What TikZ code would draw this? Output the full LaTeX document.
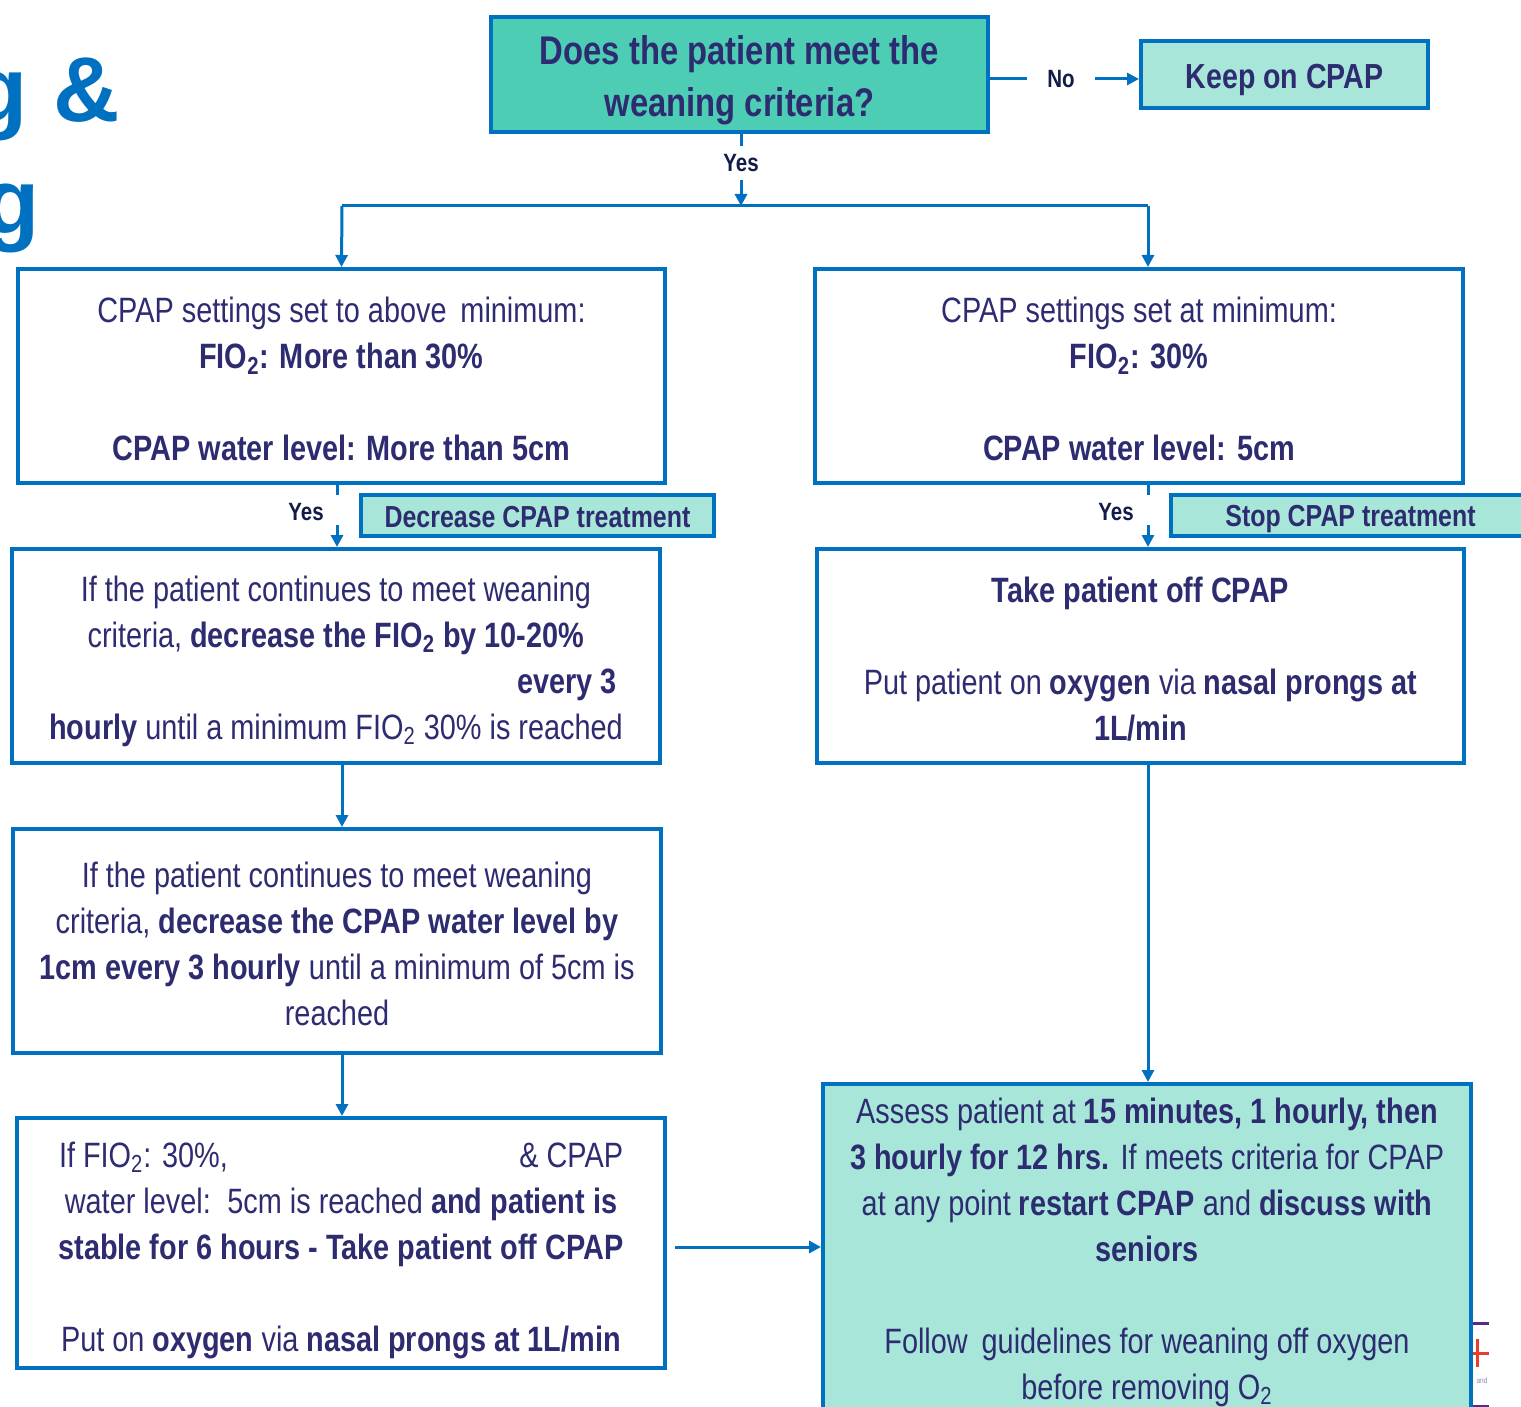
\documentclass[tikz,border=0pt]{standalone}
\usepackage{fontspec}
\setmainfont{Liberation Sans}[FakeStretch=0.82]
\newfontfamily\titlefont{Liberation Sans}
\usetikzlibrary{positioning, arrows.meta}
\definecolor{nhsblue}{RGB}{0, 112, 192}
\definecolor{tealdark}{RGB}{78, 205, 181}
\definecolor{teallight}{RGB}{168, 230, 218}
\definecolor{textnavy}{RGB}{46, 44, 112}
\definecolor{labelnavy}{RGB}{18, 28, 72}
\definecolor{logopurple}{RGB}{84, 44, 134}
\definecolor{logored}{RGB}{232, 62, 42}
\newcommand{\lift}[1]{\rule{0pt}{#1}}

\begin{document}
\begin{tikzpicture}[
  x=0.5pt, y=-0.5pt,
  >={Triangle[length=6pt, width=6pt]},
  whitebox/.style={
    draw=nhsblue,
    line width=2pt,
    fill=white,
    align=center,
    text=textnavy,
    inner sep=0pt,
    font=\fontsize{17.6}{23}\selectfont,
  },
  tealbox/.style={
    whitebox,
    fill=teallight,
  },
  hintbox/.style={
    draw=nhsblue,
    line width=2pt,
    fill=teallight,
    text=textnavy,
    inner sep=0pt,
    font=\fontsize{15.2}{18}\selectfont\bfseries,
    execute at begin node={\rule{0pt}{12.5pt}},
  },
  yeslabel/.style={
    text=labelnavy,
    inner xsep=0pt,
    inner ysep=4pt,
    font=\fontsize{12.5}{14}\selectfont\bfseries,
  },
  flow/.style={
    draw=nhsblue,
    line width=1.5pt,
  }
]
  \useasboundingbox (0,0) rectangle (1521,1407);

  % === cut-off title on the left ===
  \node[text=nhsblue, font=\titlefont\fontsize{46}{50}\selectfont\bfseries, anchor=base east, inner sep=0pt] (title-a) at (120,122) {g \&};
  \node[text=nhsblue, font=\titlefont\fontsize{46}{50}\selectfont\bfseries, anchor=base east, inner sep=0pt] (title-b) at (40,234) {g};

  % === QUESTION (top) ===
  \node[whitebox, fill=tealdark, minimum width=248.5pt, minimum height=57.5pt,
        font=\fontsize{20}{26}\selectfont\bfseries] (q-box) at (739.5,74.5)
        {\lift{20.6pt}Does the patient meet the\\ weaning criteria?};

  % KEEP ON CPAP (top right)
  \node[tealbox, minimum width=143.5pt, minimum height=33.5pt,
        font=\fontsize{17.4}{20}\selectfont\bfseries,
        execute at begin node={\rule{0pt}{18pt}}] (keep-box) at (1284.5,74.5) {Keep on CPAP};

  \node[yeslabel, inner xsep=10pt] (no-q) at (1061,79) {No};
  \draw[flow] (q-box.east |- no-q.west) -- (no-q.west);
  \draw[flow, ->] (no-q.east) -- (no-q.east -| keep-box.west);

  % Yes split into two branches
  \node[yeslabel] (yes-q) at (741,163) {Yes};
  \coordinate (split) at (741,206);
  \coordinate (split-l) at (342,206);
  \coordinate (split-r) at (1148,206);
  \draw[flow] (yes-q.north |- q-box.south) -- (yes-q.north);
  \draw[flow, ->] (yes-q.south) -- (split);
  \draw[flow] (split-l) -- (split-r);

  % === LEFT BRANCH ===
  \node[whitebox, minimum width=323.5pt, minimum height=107pt] (set-hi) at (341.5,376)
        {\lift{15.9pt}CPAP settings set to above\, minimum:\\
         \textbf{FIO\textsubscript{2}: More than 30\%}\\[23pt]
         \textbf{CPAP water level: More than 5cm}};
  \draw[flow, ->] (split-l) -- (set-hi.north);

  \node[hintbox, minimum width=176.5pt, minimum height=20.5pt] (dec-hint) at (537.5,515.5) {Decrease CPAP treatment};
  \node[yeslabel] (yes-l) at (306,512) {Yes};
  \coordinate (gap-l-top) at (337,495);
  \coordinate (gap-l-bot) at (337,525);

  \node[whitebox, minimum width=324pt, minimum height=107pt] (fio-dec) at (336,656)
        {\lift{17.9pt}If the patient continues to meet weaning\\
         criteria, \textbf{decrease the FIO\textsubscript{2} by 10-20\%}\\
         \hspace*{231pt}\textbf{every 3}\\
         \textbf{hourly} until a minimum FIO\textsubscript{2} 30\% is reached};
  \draw[flow] (gap-l-top |- set-hi.south) -- (gap-l-top);
  \draw[flow, ->] (gap-l-bot) -- (gap-l-bot |- fio-dec.north);

  \node[whitebox, minimum width=324pt, minimum height=112pt] (water-dec) at (337,941)
        {\lift{15.9pt}If the patient continues to meet weaning\\
         criteria, \textbf{decrease the CPAP water level by}\\
         \textbf{1cm every 3 hourly} until a minimum of 5cm is\\
         reached};
  \coordinate (col-l) at (342,0);
  \draw[flow, ->] (col-l |- fio-dec.south) -- (col-l |- water-dec.north);

  \node[whitebox, minimum width=324pt, minimum height=125pt] (off-cpap) at (341,1243)
        {\lift{19.9pt}\makebox[282pt][s]{If FIO\textsubscript{2}: 30\%,\hfill\& CPAP}\\
         water level:\, 5cm is reached \textbf{and patient is}\\
         \textbf{stable for 6 hours - Take patient off CPAP}\\[23pt]
         Put on \textbf{oxygen} via \textbf{nasal prongs at 1L/min}};
  \draw[flow, ->] (col-l |- water-dec.south) -- (col-l |- off-cpap.north);

  % === RIGHT BRANCH ===
  \node[whitebox, minimum width=324pt, minimum height=107pt] (set-min) at (1139,376)
        {\lift{15.9pt}CPAP settings set at minimum:\\
         \textbf{FIO\textsubscript{2}: 30\%}\\[23pt]
         \textbf{CPAP water level: 5cm}};
  \draw[flow, ->] (split-r) -- (split-r |- set-min.north);

  \node[hintbox, minimum width=179.5pt, minimum height=20.5pt,
        execute at begin node={\rule{0pt}{14pt}}] (stop-hint) at (1350.5,515.5) {Stop CPAP treatment};
  \node[yeslabel] (yes-r) at (1116,512) {Yes};
  \coordinate (gap-r-top) at (1148,495);
  \coordinate (gap-r-bot) at (1148,525);

  \node[whitebox, minimum width=323.5pt, minimum height=107pt] (off-now) at (1140.5,656)
        {\lift{15.9pt}\textbf{Take patient off CPAP}\\[23pt]
         Put patient on \textbf{oxygen} via \textbf{nasal prongs at}\\
         \textbf{1L/min}};
  \draw[flow] (gap-r-top |- set-min.south) -- (gap-r-top);
  \draw[flow, ->] (gap-r-bot) -- (gap-r-bot |- off-now.north);

  \node[tealbox, minimum width=324pt, minimum height=165pt] (assess) at (1147,1249)
        {\lift{15.9pt}Assess patient at \textbf{15 minutes, 1 hourly, then}\\
         \textbf{3 hourly for 12 hrs.} If meets criteria for CPAP\\
         at any point \textbf{restart CPAP} and \textbf{discuss with}\\
         \textbf{seniors}\\[23pt]
         Follow\, guidelines for weaning off oxygen\\
         before removing O\textsubscript{2}};
  \draw[flow, ->] (split-r |- off-now.south) -- (split-r |- assess.north);
  \draw[flow, ->] ([xshift=4pt]off-cpap.east |- 0,1247) -- (assess.west |- 0,1247);

  % logo fragment at the right edge
  \draw[logopurple, line width=1.5pt] (1473,1323) -- (1489,1323);
  \draw[logored, line width=1.5pt] (1473,1353) -- (1489,1353) (1477,1339) -- (1477,1367);
  \node[text=logopurple!60, font=\fontsize{4}{5}\selectfont, inner sep=0pt] (logo-and) at (1482,1381) {and};
  \draw[logopurple, line width=1.5pt] (1473,1406) -- (1489,1406);

\end{tikzpicture}
\end{document}
